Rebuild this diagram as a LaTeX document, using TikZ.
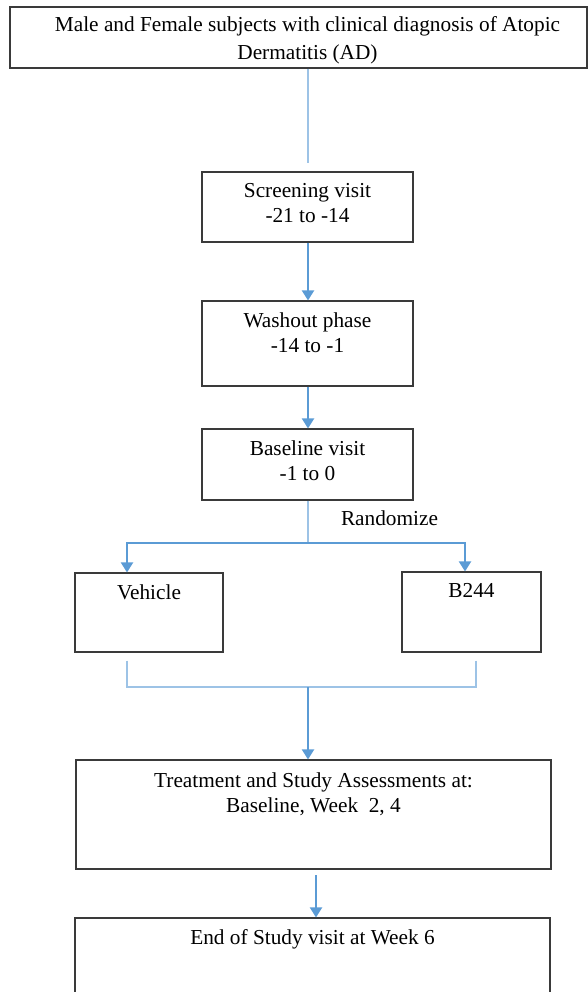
\documentclass[tikz,border=0pt]{standalone}
\usepackage{fontspec}
\setmainfont{Liberation Serif}
\usetikzlibrary{arrows.meta, positioning, calc}
\definecolor{flowblue}{HTML}{5B9BD5}
\definecolor{flowpale}{HTML}{9DC3E6}
\definecolor{boxedge}{HTML}{3A3A3A}

\begin{document}
\begin{tikzpicture}[
    x=1pt, y=-1pt,
    box/.style={draw=boxedge, line width=1.1pt, rectangle, inner sep=0pt},
    txt/.style={font=\fontsize{21.3}{25}\selectfont, align=center, anchor=north, inner sep=0pt, yshift=-12pt},
    arr/.style={-{Triangle[length=10pt, width=12pt]}, flowblue, line width=2pt},
    link/.style={flowpale, line width=1.6pt},
  ]
  \useasboundingbox (0,0) rectangle (588,992);

  % Subjects
  \node[box, minimum width=577pt, minimum height=61pt,
        label={[txt, xshift=9pt, yshift=2pt, font=\fontsize{21.3}{28}\selectfont]north:Male and Female subjects with clinical diagnosis of Atopic\\Dermatitis (AD)}]
        (subjects) at (298.5,37.5) {};

  % Visits
  \node[box, minimum width=211pt, minimum height=70pt,
        label={[txt]north:Screening visit\\-21 to -14}] (screen) at (307.5,207) {};
  \node[box, minimum width=211pt, minimum height=85pt,
        label={[txt]north:Washout phase\\-14 to -1}] (washout) at (307.5,343.5) {};
  \node[box, minimum width=211pt, minimum height=71pt,
        label={[txt]north:Baseline visit\\-1 to 0}] (baseline) at (307.5,464.5) {};
  \node[font=\fontsize{21.3}{25}\selectfont, inner sep=0pt] (randomize) at (389.5,518) {Randomize};

  % Arms
  \node[box, minimum width=148pt, minimum height=79pt,
        label={[txt]north:Vehicle}] (vehicle) at (149,612.5) {};
  \node[box, minimum width=139pt, minimum height=80pt,
        label={[txt]north:B244}] (b244) at (471.5,612) {};

  % Treatment + End
  \node[box, minimum width=475pt, minimum height=109pt,
        label={[txt, yshift=-1pt]north:Treatment and Study Assessments at:\\Baseline, Week~~2, 4}] (treat) at (313.5,814.5) {};
  \node[box, minimum width=475pt, minimum height=92pt,
        label={[txt]north:End of Study visit at Week 6}] (endvisit) at (312.5,964) {};

  \coordinate (subjectsend) at (308,163);
  \coordinate (split) at (308,543);
  \coordinate (merge) at (308,687);
  \coordinate (treatout) at (316,875);

  % Arrows
  \draw[link, line width=1.3pt] (subjects.south -| subjectsend) -- (subjectsend);
  \draw[arr] (screen.south -| split) -- (washout.north -| split);
  \draw[arr] (washout.south -| split) -- (baseline.north -| split);
  \draw[link] (baseline.south -| split) -- (split);
  \draw[arr] (split) -| ([xshift=-22pt]vehicle.north);
  \draw[arr] (split) -| ([xshift=-6.5pt]b244.north);
  \draw[link] ([xshift=-22pt, yshift=-8pt]vehicle.south) |- (merge);
  \draw[link] ([xshift=4.5pt, yshift=-8pt]b244.south) |- (merge);
  \draw[arr] (merge) -- (merge |- treat.north);
  \draw[arr] (treatout) -- (treatout |- endvisit.north);

\end{tikzpicture}
\end{document}
